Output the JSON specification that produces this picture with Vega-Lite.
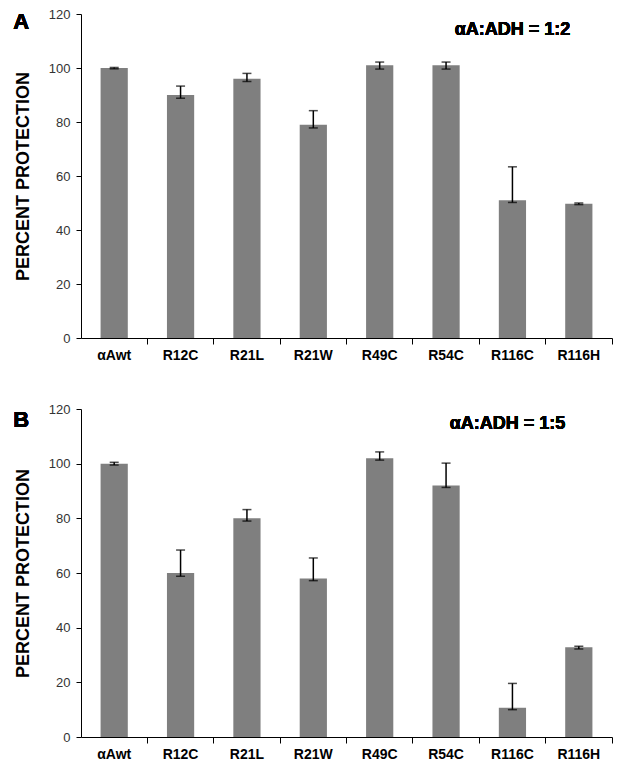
{
  "$schema": "https://vega.github.io/schema/vega-lite/v6.json",
  "padding": {"left": 13, "top": 8, "right": 5, "bottom": 5},
  "background": "white",
  "config": {
    "view": {"stroke": null},
    "font": "Liberation Sans",
    "axis": {"grid": false, "domainColor": "black", "tickColor": "black", "domainWidth": 1, "tickWidth": 1}
  },
  "datasets": {
    "A": [
      {"mutant": "αAwt", "value": 100, "lower": 99.7, "upper": 100.2},
      {"mutant": "R12C", "value": 90, "lower": 88.8, "upper": 93.3},
      {"mutant": "R21L", "value": 96, "lower": 95, "upper": 98},
      {"mutant": "R21W", "value": 79, "lower": 77.8, "upper": 84.2},
      {"mutant": "R49C", "value": 101, "lower": 99.6, "upper": 102.2},
      {"mutant": "R54C", "value": 101, "lower": 99.6, "upper": 102.2},
      {"mutant": "R116C", "value": 51, "lower": 50.2, "upper": 63.4},
      {"mutant": "R116H", "value": 49.7, "lower": 49.4, "upper": 50}
    ],
    "B": [
      {"mutant": "αAwt", "value": 100, "lower": 99.5, "upper": 100.5},
      {"mutant": "R12C", "value": 60, "lower": 58.8, "upper": 68.4},
      {"mutant": "R21L", "value": 80, "lower": 79, "upper": 83.2},
      {"mutant": "R21W", "value": 58, "lower": 57.2, "upper": 65.5},
      {"mutant": "R49C", "value": 102, "lower": 101.3, "upper": 104.3},
      {"mutant": "R54C", "value": 92, "lower": 91.3, "upper": 100.2},
      {"mutant": "R116C", "value": 10.7, "lower": 10, "upper": 19.6},
      {"mutant": "R116H", "value": 32.8, "lower": 32.2, "upper": 33.2}
    ]
  },
  "vconcat": [
    {
      "width": 531,
      "height": 324,
      "data": {"name": "A"},
      "encoding": {
        "x": {
          "field": "mutant", "type": "nominal", "sort": null,
          "scale": {"paddingInner": 0, "paddingOuter": 0},
          "axis": {"title": null, "labelAngle": 0, "labelFontSize": 14, "labelFontWeight": "bold", "labelColor": "black", "tickSize": 6, "labelPadding": 4, "bandPosition": 1}
        }
      },
      "layer": [
        {
          "mark": {"type": "bar", "color": "#7f7f7f", "width": {"band": 0.41}},
          "encoding": {
            "y": {
              "field": "value", "type": "quantitative", "title": "PERCENT PROTECTION",
              "scale": {"domain": [0, 120], "nice": false},
              "axis": {"values": [0, 20, 40, 60, 80, 100, 120], "titleFontSize": 18, "titleFontWeight": "bold", "titleColor": "black", "titlePadding": 16, "labelFontSize": 13, "labelColor": "#333", "tickSize": 5, "labelPadding": 6}
            }
          }
        },
        {
          "mark": {"type": "errorbar", "ticks": {"size": 9, "thickness": 1.5, "color": "black"}, "rule": {"strokeWidth": 1.5, "color": "black"}},
          "encoding": {
            "y": {"field": "lower", "type": "quantitative", "title": "PERCENT PROTECTION"},
            "y2": {"field": "upper"}
          }
        },
        {
          "mark": {"type": "text", "text": "A", "fontSize": 22, "fontWeight": "bold", "color": "black", "baseline": "middle", "dx": -93},
          "encoding": {"x": {"datum": "αAwt"}, "y": {"datum": 117}}
        },
        {
          "mark": {"type": "text", "text": "αA:ADH = 1:2", "fontSize": 18, "fontWeight": "bold", "color": "black", "baseline": "middle", "align": "center", "dx": 0},
          "encoding": {"x": {"datum": "R116C"}, "y": {"datum": 114}}
        }
      ]
    },
    {
      "width": 531,
      "height": 328,
      "data": {"name": "B"},
      "encoding": {
        "x": {
          "field": "mutant", "type": "nominal", "sort": null,
          "scale": {"paddingInner": 0, "paddingOuter": 0},
          "axis": {"title": null, "labelAngle": 0, "labelFontSize": 14, "labelFontWeight": "bold", "labelColor": "black", "tickSize": 6, "labelPadding": 4, "bandPosition": 1}
        }
      },
      "layer": [
        {
          "mark": {"type": "bar", "color": "#7f7f7f", "width": {"band": 0.41}},
          "encoding": {
            "y": {
              "field": "value", "type": "quantitative", "title": "PERCENT PROTECTION",
              "scale": {"domain": [0, 120], "nice": false},
              "axis": {"values": [0, 20, 40, 60, 80, 100, 120], "titleFontSize": 18, "titleFontWeight": "bold", "titleColor": "black", "titlePadding": 16, "labelFontSize": 13, "labelColor": "#333", "tickSize": 5, "labelPadding": 6}
            }
          }
        },
        {
          "mark": {"type": "errorbar", "ticks": {"size": 9, "thickness": 1.5, "color": "black"}, "rule": {"strokeWidth": 1.5, "color": "black"}},
          "encoding": {
            "y": {"field": "lower", "type": "quantitative", "title": "PERCENT PROTECTION"},
            "y2": {"field": "upper"}
          }
        },
        {
          "mark": {"type": "text", "text": "B", "fontSize": 22, "fontWeight": "bold", "color": "black", "baseline": "middle", "dx": -93},
          "encoding": {"x": {"datum": "αAwt"}, "y": {"datum": 116}}
        },
        {
          "mark": {"type": "text", "text": "αA:ADH = 1:5", "fontSize": 18, "fontWeight": "bold", "color": "black", "baseline": "middle", "align": "center", "dx": -5},
          "encoding": {"x": {"datum": "R116C"}, "y": {"datum": 114.5}}
        }
      ]
    }
  ],
  "spacing": 71,
  "bounds": "flush"
}
